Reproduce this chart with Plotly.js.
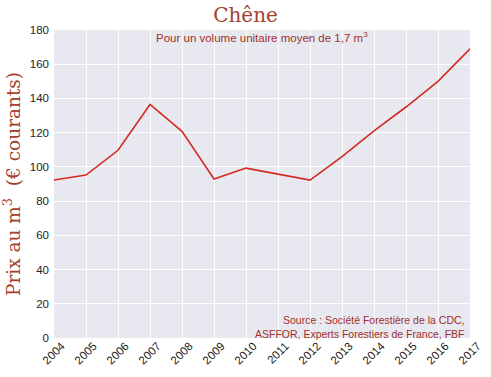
<!DOCTYPE html>
<html><head><meta charset="utf-8">
<script src="https://cdn.plot.ly/plotly-3.0.1.min.js"></script>
<style>body{margin:0;background:#fff}#c{width:491px;height:377px}</style>
</head><body><div id="c"></div>
<script>
const years = [2004,2005,2006,2007,2008,2009,2010,2011,2012,2013,2014,2015,2016,2017];
const prices = [92.3,95.2,109.7,136.5,120.8,92.9,99.3,96,92.3,106,121,135,150,169];
const yTicks = [0,20,40,60,80,100,120,140,160,180];
const titleText = "Chêne";
const subtitle = "Pour un volume unitaire moyen de 1,7 m<sup>3</sup>";
const sourceText = "Source : Société Forestière de la CDC,<br>ASFFOR, Experts Forestiers de France, FBF";
const yTitle = "Prix au m<sup>3</sup>  (€ courants)";

const tickFont = {family:'Liberation Sans, Arial, sans-serif', size:11.5, color:'#222'};
const trace = {x: years, y: prices, type:'scatter', mode:'lines',
  line:{color:'#d42a1e', width:1.6}, hoverinfo:'skip'};
const xLabels = years.map(y => ({text:String(y), xref:'x', yref:'paper', x:y, y:-0.05,
  xanchor:'center', yanchor:'middle', textangle:-45, showarrow:false, font:tickFont}));
const layout = {
  width:491, height:377,
  margin:{l:54, r:21, t:30, b:39},
  paper_bgcolor:'#ffffff', plot_bgcolor:'#e8e8f1',
  showlegend:false,
  title:{text:titleText, font:{family:'DejaVu Serif, serif', size:20, color:'#a5402c'}, x:0.5, xanchor:'center', y:0.978, yanchor:'top'},
  xaxis:{range:[2004,2017], tickvals:years, showticklabels:false,
    showgrid:true, gridcolor:'#ffffff', gridwidth:1, zeroline:false, showline:false, ticks:''},
  yaxis:{range:[0,180], tickvals:yTicks, showgrid:true, gridcolor:'#ffffff', gridwidth:1,
    zeroline:false, showline:false, ticks:'', ticklabelstandoff:4, tickfont:tickFont,
    title:{text:yTitle, font:{family:'DejaVu Serif, serif', size:18.5, color:'#a5402c'}, standoff:10}},
  annotations:[
    {text:subtitle, xref:'paper', yref:'paper', x:0.5, y:1.008, xanchor:'center', yanchor:'top',
     showarrow:false, font:{family:'Liberation Sans, Arial, sans-serif', size:11.5, color:'#a0302a'}},
    {text:sourceText, xref:'paper', yref:'paper', x:0.99, y:-0.012, xanchor:'right', yanchor:'bottom', align:'right',
     showarrow:false, font:{family:'Liberation Sans, Arial, sans-serif', size:10.5, color:'#a0302a'}}
  ].concat(xLabels)
};
Plotly.newPlot('c',[trace],layout,{staticPlot:true});
</script></body></html>
